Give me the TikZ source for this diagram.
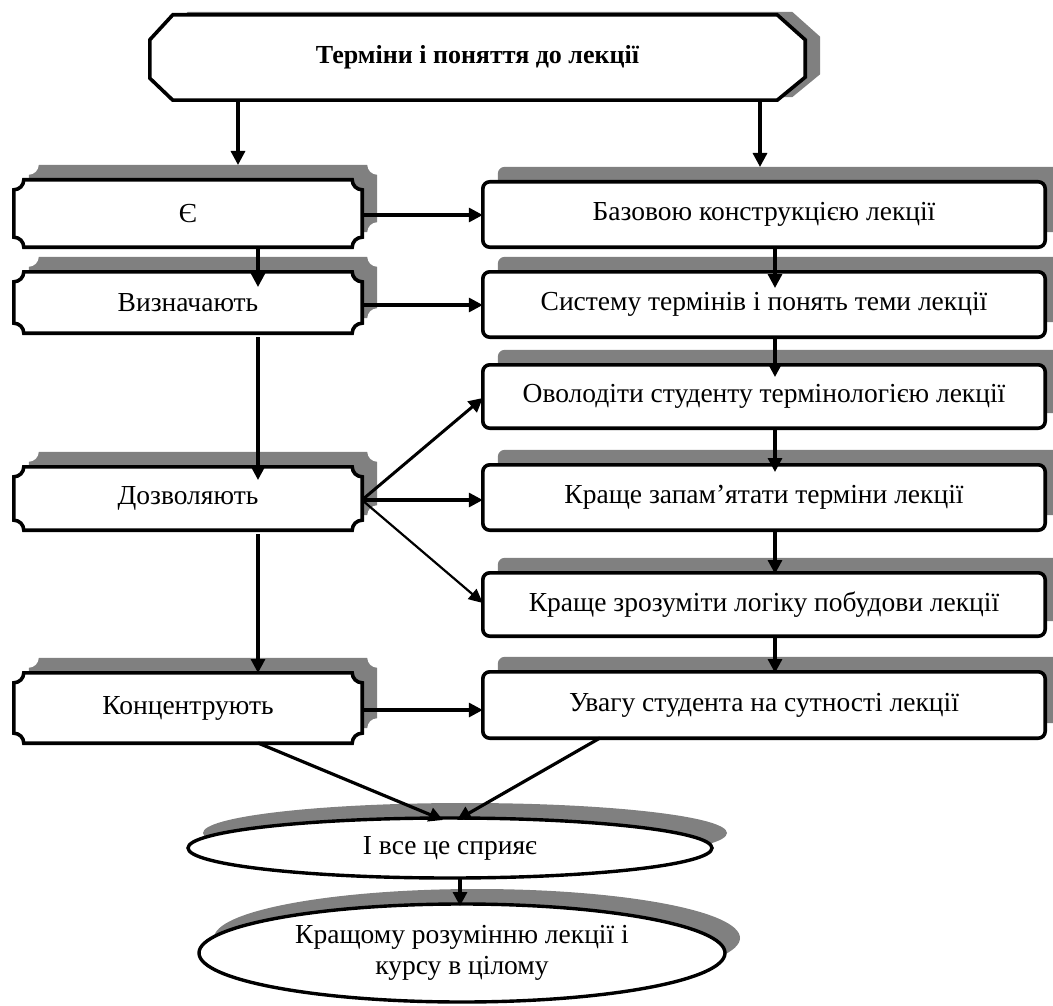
\documentclass[tikz,border=0pt]{standalone}
\usepackage{fontspec}
\setmainfont{Liberation Serif}
\usetikzlibrary{arrows.meta,calc,shapes.geometric}
\pgfdeclarelayer{bg}
\pgfsetlayers{bg,main}
\begin{document}
\begin{tikzpicture}[x=1pt,y=-1pt,
  txt/.style={font=\fontsize{27.5}{31}\selectfont},
  lbox/.style={txt,minimum width=348pt,inner sep=0pt},
  rbox/.style={txt,minimum width=562pt,inner sep=0pt},
  shadowc/.style={fill=black!50},
  border/.style={line width=3.6pt,line join=miter},
  arr/.style={line width=3.2pt,-{Triangle[length=14pt,width=14pt]}},
  notchpath/.style={insert path={
    ($(#1.north west)+(10,0)$) -- ($(#1.north east)+(-10,0)$)
      .. controls +(0,5.5) and +(-5.5,0) .. ($(#1.north east)+(0,10)$)
      -- ($(#1.south east)+(0,-10)$)
      .. controls +(-5.5,0) and +(0,-5.5) .. ($(#1.south east)+(-10,0)$)
      -- ($(#1.south west)+(10,0)$)
      .. controls +(0,-5.5) and +(5.5,0) .. ($(#1.south west)+(0,-10)$)
      -- ($(#1.north west)+(0,10)$)
      .. controls +(5.5,0) and +(0,5.5) .. ($(#1.north west)+(10,0)$) -- cycle}},
  octpath/.style={insert path={
    ($(#1.north west)+(23,0)$) -- ($(#1.north east)+(-28,0)$)
      -- ($(#1.north east)+(0,25)$) -- ($(#1.south east)+(0,-23)$)
      -- ($(#1.south east)+(-28,0)$) -- ($(#1.south west)+(23,0)$)
      -- ($(#1.south west)+(0,-22)$) -- ($(#1.north west)+(0,25)$) -- cycle}},
  rectpath/.style={insert path={[rounded corners=7pt] (#1.north west) rectangle (#1.south east)}}
]
\useasboundingbox (0,0) rectangle (1053,1006);

% nodes
\node[txt,font=\fontsize{26}{30}\selectfont\bfseries,minimum width=655pt,minimum height=85pt,inner sep=0pt] (top) at (477.5,57.5) {Терміни і поняття до лекції};

\node[lbox,minimum height=67pt] (e) at (188,213.5) {Є};
\node[lbox,minimum height=61pt] (v) at (188,302.5) {Визначають};
\node[lbox,minimum height=63pt] (d) at (188,498.5) {Дозволяють};
\node[lbox,minimum height=70pt] (k) at (188,708) {Концентрують};

\node[rbox,minimum height=65pt] (b) at (764,214.5) {Базовою конструкцією лекції};
\node[rbox,minimum height=65pt] (s) at (764,304.5) {Систему термінів і понять теми лекції};
\node[rbox,minimum height=63pt] (o) at (764,396.5) {Оволодіти студенту термінологією лекції};
\node[rbox,minimum height=65pt] (z) at (764,497.5) {Краще запам’ятати терміни лекції};
\node[rbox,minimum height=63pt] (r) at (764,604.5) {Краще зрозуміти логіку побудови лекції};
\node[rbox,minimum height=66pt] (u) at (764,705) {Увагу студента на сутності лекції};

\node[txt,ellipse,inner sep=0pt,minimum width=524pt,minimum height=60pt] (el1) at (450,848) {І все це сприяє};
\node[txt,ellipse,inner sep=0pt,minimum width=526pt,minimum height=98pt,align=center] (el2) at (462,953) {Кращому розумінню лекції і\\курсу в цілому};

% shadows and outlines
\begin{pgfonlayer}{bg}
  \fill[shadowc,transform canvas={shift={(15,-3)}},octpath=top];
  \filldraw[fill=white,border,octpath=top];
  \foreach \n in {e,v,d,k}{
    \fill[shadowc,transform canvas={shift={(15,-15)}},notchpath=\n];
    \filldraw[fill=white,border,notchpath=\n];
  }
  \foreach \n in {b,s,o,z,r,u}{
    \fill[shadowc,transform canvas={shift={(15,-15)}},rectpath=\n];
    \filldraw[fill=white,border,rectpath=\n];
  }
  \fill[shadowc,transform canvas={shift={(15,-15)}}] (el1.center) ellipse [x radius=262, y radius=30];
  \filldraw[fill=white,line width=3.4pt] (el1.center) ellipse [x radius=262, y radius=30];
  \fill[shadowc,transform canvas={shift={(15,-15)}}] (el2.center) ellipse [x radius=263, y radius=49];
  \filldraw[fill=white,line width=3.4pt] (el2.center) ellipse [x radius=263, y radius=49];
\end{pgfonlayer}

% connectors
\coordinate (t1) at (238,165);
\coordinate (t2) at (760,167);
\draw[arr] (top.south -| t1) -- (t1);
\draw[arr] (top.south -| t2) -- (t2);

\coordinate (c1) at (258,287);
\coordinate (c2) at (258,480);
\coordinate (c3) at (258,673);
\draw[arr] (e.south -| c1) -- (c1);
\draw[arr] ($(v.south -| c2)+(0,4)$) -- (c2);
\draw[arr] ($(d.south -| c3)+(0,4)$) -- (c3);

\coordinate (r1) at (775,288);
\coordinate (r2) at (775,377);
\coordinate (r3) at (775,472);
\coordinate (r4) at (775,574);
\coordinate (r5) at (775,673);
\draw[arr] (b.south -| r1) -- (r1);
\draw[arr] (s.south -| r2) -- (r2);
\draw[arr] (o.south -| r3) -- (r3);
\draw[arr] (z.south -| r4) -- (r4);
\draw[arr] (r.south -| r5) -- (r5);

\coordinate (h1) at (362,215);
\coordinate (h2) at (362,305);
\coordinate (h3) at (362,710);
\draw[arr] (h1) -- (h1 -| b.west);
\draw[arr] (h2) -- (h2 -| s.west);
\draw[arr] (h3) -- (h3 -| u.west);

\coordinate (dd) at (362,500);
\draw[arr,line width=3pt] (dd) -- ($(o.west)+(0,1.5)$);
\draw[arr] (dd) -- (dd -| z.west);
\draw[line width=2.2pt,-{Triangle[length=14pt,width=13pt]}] (dd) -- ($(r.west)+(0,-1.5)$);

\coordinate (kb) at (258,743);
\coordinate (ub) at (600,738);
\coordinate (e1a) at (443,820);
\coordinate (e1b) at (457,820);
\draw[arr] (kb) -- (e1a);
\draw[arr] (ub) -- (e1b);

\coordinate (e2t) at (460,906);
\draw[arr] (el1.south -| e2t) -- (e2t);
\end{tikzpicture}
\end{document}
